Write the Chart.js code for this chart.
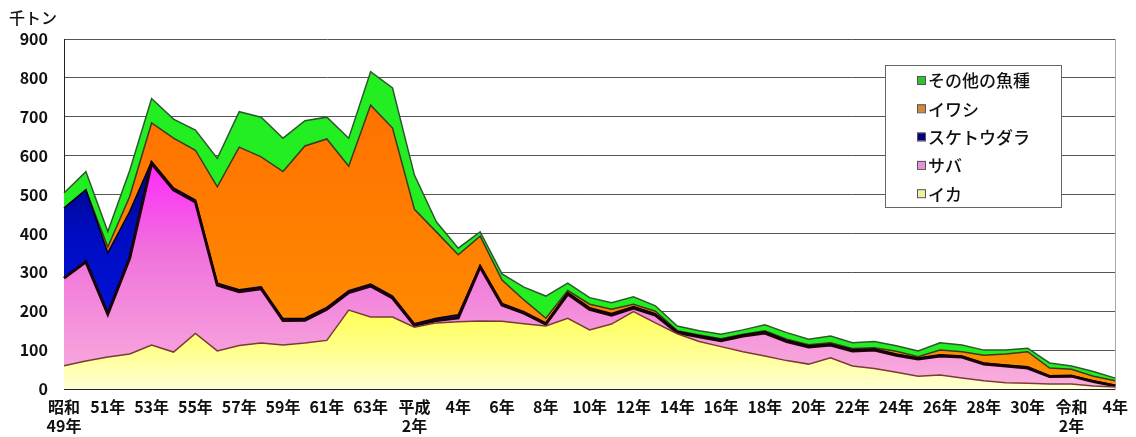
<!DOCTYPE html>
<html>
<head>
<meta charset="utf-8">
<script src="https://cdn.jsdelivr.net/npm/chart.js@4"></script>
<style>
  html, body { margin: 0; padding: 0; background: #fff; }
  #wrap { width: 1136px; height: 437px; position: relative; }
</style>
</head>
<body>
<div id="wrap"><canvas id="fishChart" width="1136" height="437"></canvas></div>
<script>
// 昭和49年(1974) 〜 令和4年(2022)
const years = [
  '昭和49年','50年','51年','52年','53年','54年','55年','56年','57年','58年',
  '59年','60年','61年','62年','63年','平成元年','2年','3年','4年','5年',
  '6年','7年','8年','9年','10年','11年','12年','13年','14年','15年',
  '16年','17年','18年','19年','20年','21年','22年','23年','24年','25年',
  '26年','27年','28年','29年','30年','令和元年','2年','3年','4年'
]
// x axis labels (every other year, two lines where needed)
const tickLabels = [
  ['昭和','49年'],'',['51年'],'',['53年'],'',['55年'],'',['57年'],'',
  ['59年'],'',['61年'],'',['63年'],'',['平成','2年'],'',['4年'],'',
  ['6年'],'',['8年'],'',['10年'],'',['12年'],'',['14年'],'',
  ['16年'],'',['18年'],'',['20年'],'',['22年'],'',['24年'],'',
  ['26年'],'',['28年'],'',['30年'],'',['令和','2年'],'',['4年']
]
const yTicks = [0,100,200,300,400,500,600,700,800,900]

// 千トン
const ika = [60,72,82,90,113,95,143,98,112,118,113,118,125,203,185,185,159,170,173,175,
  174,168,162,182,152,167,199,170,142,122,109,96,85,73,64,80,59,53,43,33,
  36,28,21,16,15,13,13,8,5]
const saba = [225,255,111,247,467,417,338,169,138,140,63,59,80,45,80,49,5,6,10,139,
  42,27,5,62,53,23,9,20,3,12,15,40,59,49,44,33,39,47,44,44,
  49,54,43,43,39,19,20,11,3]
const sukeso = [180,185,157,119,5,5,5,5,5,5,5,5,5,5,5,5,4,6,8,4,
  4,4,3,4,4,4,4,4,3,3,3,3,3,3,3,3,3,3,3,3,
  3,3,3,3,3,2,2,2,2]
const iwashi = [0,0,15,39,99,128,128,248,367,334,378,443,433,320,460,432,294,222,154,75,
  60,30,12,5,9,11,6,6,2,2,2,2,3,3,3,3,3,3,7,3,
  12,11,20,28,39,20,16,12,11]
const sonota = [39,47,40,67,63,49,52,73,91,102,86,65,56,72,86,103,88,26,17,11,
  16,33,57,19,17,17,19,14,12,11,12,11,15,17,14,17,15,16,14,15,
  19,17,13,10,9,13,8,12,7]

const FONT = "'Noto Sans CJK JP', 'DejaVu Sans', sans-serif"

function vGrad(chart, stops) {
  const area = chart.chartArea
  if (!area) return stops[0][1]
  const g = chart.ctx.createLinearGradient(0, area.top, 0, area.bottom)
  stops.forEach(s => g.addColorStop(s[0], s[1]))
  return g
}

// legend drawn inside the plot, top series first
const boxLegend = {
  id: 'boxLegend',
  afterDraw(chart) {
    const {ctx} = chart
    ctx.save()
    ctx.fillStyle = '#fff'
    ctx.fillRect(885, 65, 176, 142)
    ctx.strokeStyle = '#666'
    ctx.lineWidth = 1
    ctx.strokeRect(885.5, 65.5, 176, 142)
    const ds = chart.data.datasets.slice().reverse()
    ctx.font = '500 17px ' + FONT
    ctx.textBaseline = 'middle'
    ds.forEach((d, i) => {
      const y = 80 + i * 28.3
      ctx.fillStyle = d.swatch
      ctx.fillRect(917, y - 4, 8, 8)
      ctx.strokeStyle = '#555'
      ctx.strokeRect(917.5, y - 3.5, 8, 8)
      ctx.fillStyle = '#111'
      ctx.fillText(d.label, 928, y + 1)
    })
    // unit
    ctx.font = '500 16px ' + FONT
    ctx.fillText('千トン', 9, 18)
    ctx.restore()
  }
}

const data = {
  labels: years,
  datasets: [
    {
      label: 'イカ', data: ika, fill: 'origin', swatch: '#f0f0a0',
      borderColor: '#7a3a3a', borderWidth: 1.5,
      backgroundColor: c => vGrad(c.chart, [[0.68, '#ffff28'], [0.88, '#ffff88'], [1, '#ffffd4']])
    },
    {
      label: 'サバ', data: saba, fill: '-1', swatch: '#e890d8',
      borderColor: '#1a0008', borderWidth: 3,
      backgroundColor: c => vGrad(c.chart, [[0.33, '#ff22ff'], [0.6, '#f070dc'], [1, '#f8b0dc']])
    },
    {
      label: 'スケトウダラ', data: sukeso, fill: '-1', swatch: '#000080',
      borderColor: '#000020', borderWidth: 1.5,
      backgroundColor: c => vGrad(c.chart, [[0.2, '#000048'], [0.55, '#000cc0'], [1, '#0018f0']])
    },
    {
      label: 'イワシ', data: iwashi, fill: '-1', swatch: '#d08a40',
      borderColor: '#3a3a1a', borderWidth: 1.5,
      backgroundColor: c => vGrad(c.chart, [[0, '#ff6a00'], [1, '#ff9000']])
    },
    {
      label: 'その他の魚種', data: sonota, fill: '-1', swatch: '#30c030',
      borderColor: '#2c5a2c', borderWidth: 1.5,
      backgroundColor: '#22ee22'
    }
  ]
}

const config = {
  type: 'line',
  data,
  options: {
    responsive: false,
    animation: false,
    layout: {padding: {top: 39, right: 18, left: 0, bottom: 0}},
    elements: {point: {radius: 0}, line: {tension: 0}},
    plugins: {legend: {display: false}, tooltip: {enabled: false}},
    scales: {
      x: {
        offset: false,
        grid: {display: false, drawTicks: false},
        border: {color: '#222', width: 1},
        ticks: {
          autoSkip: false, maxRotation: 0, padding: 8, color: '#111',
          font: {family: FONT, size: 16, weight: 'bold'},
          callback: (v, i) => tickLabels[i]
        },
        afterFit: s => { s.height = 48 }
      },
      y: {
        stacked: true, min: 0, max: 900,
        afterBuildTicks: s => { s.ticks = yTicks.map(v => ({value: v})) },
        grid: {color: '#555', lineWidth: 1, drawTicks: false},
        border: {color: '#222', width: 1},
        ticks: {
          padding: 16, color: '#111',
          font: {family: FONT, size: 16, weight: 'bold'}
        },
        afterFit: s => { s.width = 64 }
      },
      y2: {
        position: 'right', min: 0, max: 900, display: true,
        grid: {display: false}, ticks: {display: false},
        border: {color: '#aaa', width: 1},
        afterFit: s => { s.width = 0 }
      }
    }
  },
  plugins: [boxLegend]
}

const myChart = new Chart(document.getElementById('fishChart'), config)
</script>
</body>
</html>
